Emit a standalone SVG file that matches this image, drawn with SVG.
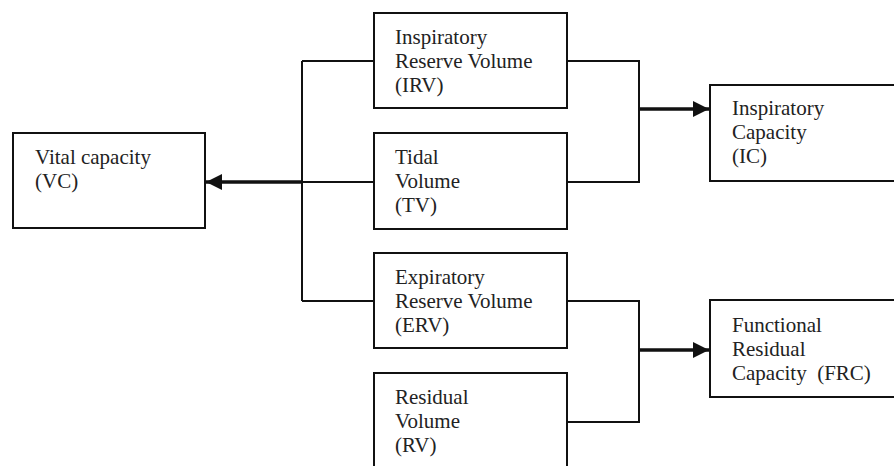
<svg xmlns="http://www.w3.org/2000/svg" width="894" height="466" viewBox="0 0 894 466">
<defs>
<marker id="ah" markerWidth="16" markerHeight="16" refX="16" refY="8" orient="auto" markerUnits="userSpaceOnUse">
<path d="M0,0 L16,8 L0,16 Z" fill="#111"/>
</marker>
<style>
.box{fill:#fff;stroke:#111;stroke-width:2}
.t{font-family:"Liberation Serif","Times New Roman",serif;font-size:21px;fill:#222;white-space:pre}
.ln{fill:none;stroke:#111;stroke-width:2}
.ar{fill:none;stroke:#111;stroke-width:3.5;marker-end:url(#ah)}
</style>
</defs>
<rect width="894" height="466" fill="#fff"/>
<g id="connectors">
<path class="ln" d="M302,61 V301 M302,61 H374 M302,182 H374 M302,301 H374"/>
<path class="ar" d="M302,182 H206"/>
<path class="ln" d="M567,61 H639 V182 H567"/>
<path class="ar" d="M639,109 H709"/>
<path class="ln" d="M567,301 H639 V422 H567"/>
<path class="ar" d="M639,350 H709"/>
</g>
<g id="vc">
<rect class="box" x="13" y="133" width="192" height="95"/>
<text class="t" x="35" y="164">Vital capacity</text>
<text class="t" x="35" y="188">(VC)</text>
</g>
<g id="irv">
<rect class="box" x="374" y="13" width="193" height="95"/>
<text class="t" x="395" y="44">Inspiratory</text>
<text class="t" x="395" y="68">Reserve Volume</text>
<text class="t" x="395" y="92">(IRV)</text>
</g>
<g id="tv">
<rect class="box" x="374" y="133" width="193" height="96"/>
<text class="t" x="395" y="164">Tidal</text>
<text class="t" x="395" y="188">Volume</text>
<text class="t" x="395" y="212">(TV)</text>
</g>
<g id="erv">
<rect class="box" x="374" y="253" width="193" height="95"/>
<text class="t" x="395" y="284">Expiratory</text>
<text class="t" x="395" y="308">Reserve Volume</text>
<text class="t" x="395" y="332">(ERV)</text>
</g>
<g id="rv">
<rect class="box" x="374" y="373" width="193" height="110"/>
<text class="t" x="395" y="404">Residual</text>
<text class="t" x="395" y="428">Volume</text>
<text class="t" x="395" y="452">(RV)</text>
</g>
<g id="ic">
<rect class="box" x="710" y="85" width="200" height="96"/>
<text class="t" x="732" y="115">Inspiratory</text>
<text class="t" x="732" y="139">Capacity</text>
<text class="t" x="732" y="163">(IC)</text>
</g>
<g id="frc">
<rect class="box" x="710" y="300" width="200" height="97"/>
<text class="t" x="732" y="332">Functional</text>
<text class="t" x="732" y="356">Residual</text>
<text class="t" x="732" y="380" xml:space="preserve">Capacity  (FRC)</text>
</g>
</svg>
